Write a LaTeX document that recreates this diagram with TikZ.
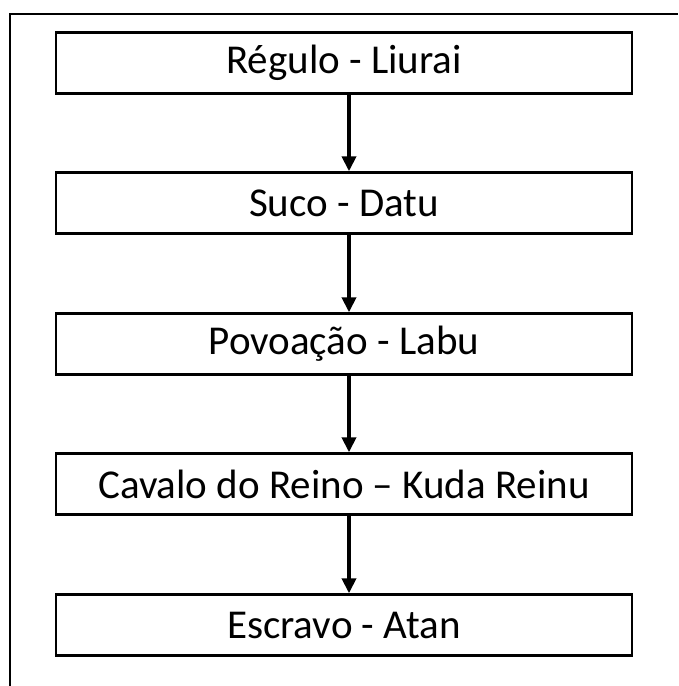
\documentclass[tikz,border=0pt]{standalone}
\usepackage{fontspec}
\setmainfont{Carlito}
\usepackage{tikz}
\usetikzlibrary{arrows.meta}

\begin{document}
\begin{tikzpicture}[x=1pt,y=-1pt]
\tikzstyle{level}=[rectangle,draw=black,line width=2.4pt,minimum width=576pt,minimum height=61pt,inner sep=0pt,font=\fontsize{41}{48}\selectfont]
\tikzstyle{link}=[line width=4pt,-{Triangle[length=15pt,width=14pt]}]
\useasboundingbox (0,0) rectangle (678,686);
\draw[line width=2.6pt] (10,686) -- (10,14) -- (678,14);
\node[level] (1) at (344,63) {Régulo - Liurai};
\node[level] (2) at (344,203) {Suco - Datu};
\node[level] (3) at (344,344) {Povoação - Labu};
\node[level] (4) at (344,484) {Cavalo do Reino – Kuda Reinu};
\node[level] (5) at (344,625) {Escravo - Atan};
\draw[link] ([xshift=5pt]1.south) -- ([xshift=5pt]2.north);
\draw[link] ([xshift=5pt]2.south) -- ([xshift=5pt]3.north);
\draw[link] ([xshift=5pt]3.south) -- ([xshift=5pt]4.north);
\draw[link] ([xshift=5pt]4.south) -- ([xshift=5pt]5.north);
\end{tikzpicture}
\end{document}
